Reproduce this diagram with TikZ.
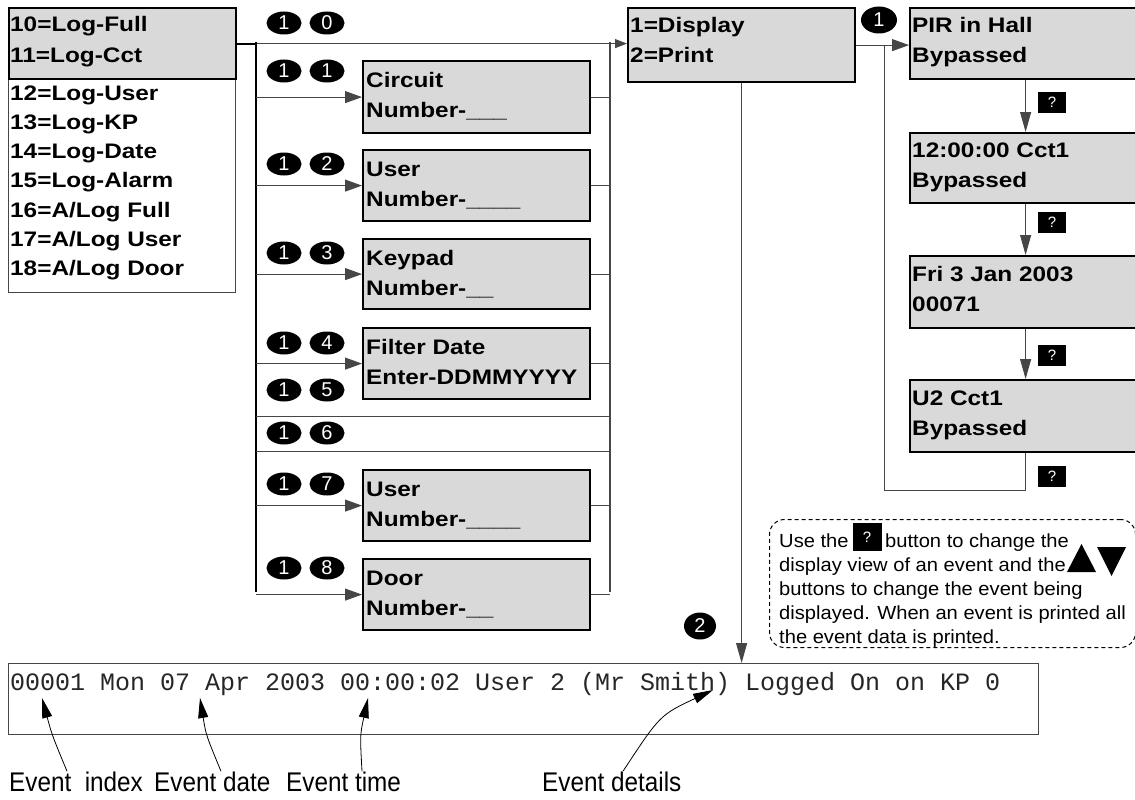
\documentclass[tikz,border=0pt]{standalone}
\usepackage{fontspec}
\setmainfont{Liberation Sans}
\newfontfamily\boxfont[FakeStretch=1.16]{Liberation Sans}
\newfontfamily\monofont{Liberation Mono}
\newfontfamily\notefont[FakeStretch=1.06]{Liberation Sans}
\newfontfamily\labfont[FakeStretch=0.9]{Liberation Sans}
\usetikzlibrary{arrows.meta,shapes.geometric}
\definecolor{boxgray}{RGB}{217,217,217}
\definecolor{linegray}{RGB}{70,70,70}
\tikzset{
  lcd/.style={draw=black, line width=2.2pt, fill=boxgray, inner sep=0pt, anchor=north west},
  plainbox/.style={draw=linegray, line width=1pt, fill=white, inner sep=0pt, anchor=north west},
  lcdtext/.style={anchor=base west, inner sep=0pt, align=left, font=\boxfont\bfseries\fontsize{21}{30}\selectfont},
  conn/.style={draw=linegray, line width=1pt},
  arr/.style={conn, -{Triangle[length=17pt,width=12pt]}},
  smallarr/.style={conn, -{Triangle[length=12pt,width=9pt]}},
  downarr/.style={conn, -{Triangle[length=20pt,width=11pt]}},
  carr/.style={draw=black, line width=0.8pt, -{Triangle[length=20pt,width=10pt]}},
  badge/.style={ellipse, fill=black, minimum width=35pt, minimum height=23pt, inner sep=0pt, text=white, font=\fontsize{20}{20}\selectfont},
  qbox/.style={fill=black, minimum width=28pt, minimum height=21pt, inner sep=0pt, text=white, font=\fontsize{15}{15}\selectfont},
  notetext/.style={anchor=base west, inner sep=0pt, font=\notefont\fontsize{19}{19}\selectfont},
  labtext/.style={anchor=base west, inner sep=0pt, font=\labfont\fontsize{27}{27}\selectfont},
}
\begin{document}
\begin{tikzpicture}[x=1pt,y=-1pt]
\useasboundingbox (0,0) rectangle (1135,800);
\fill[white] (0,0) rectangle (1135,800);

% left menu (text anchors are at the baseline of the last line)
\node[plainbox, minimum width=227pt, minimum height=214pt] (list) at (8,78) {};
\node[lcd, minimum width=227pt, minimum height=71pt] (g10) at (8,7) {};
\node[lcdtext, font=\boxfont\bfseries\fontsize{21}{31}\selectfont] (g10t) at (10,63) {10=Log-Full\\11=Log-Cct};
\node[lcdtext, font=\boxfont\bfseries\fontsize{21}{29.3}\selectfont] (listt) at (10,275.8)
  {12=Log-User\\13=Log-KP\\14=Log-Date\\15=Log-Alarm\\16=A/Log Full\\17=A/Log User\\18=A/Log Door};

% middle boxes
\node[lcd, minimum width=227pt, minimum height=72pt] (circ) at (362,60) {};
\node[lcdtext] (circt) at (366,117) {Circuit\\Number-\_\_\_};
\node[lcd, minimum width=227pt, minimum height=71pt] (user1) at (362,149) {};
\node[lcdtext] (user1t) at (366,206) {User\\Number-\_\_\_\_};
\node[lcd, minimum width=227pt, minimum height=70pt] (keyp) at (362,238) {};
\node[lcdtext] (keypt) at (366,295) {Keypad\\Number-\_\_};
\node[lcd, minimum width=227pt, minimum height=71pt] (filt) at (362,327) {};
\node[lcdtext] (filtt) at (366,384) {Filter Date\\Enter-DDMMYYYY};
\node[lcd, minimum width=227pt, minimum height=71pt] (user2) at (362,469) {};
\node[lcdtext] (user2t) at (366,526) {User\\Number-\_\_\_\_};
\node[lcd, minimum width=227pt, minimum height=71pt] (door) at (362,558) {};
\node[lcdtext] (doort) at (366,615) {Door\\Number-\_\_};

% display box
\node[lcd, minimum width=227pt, minimum height=74pt] (disp) at (627,7) {};
\node[lcdtext] (dispt) at (630,63) {1=Display\\2=Print};

% right column
\node[lcd, minimum width=231pt, minimum height=71pt] (pir) at (909,7) {};
\node[lcdtext] (pirt) at (912,63) {PIR in Hall\\Bypassed};
\node[lcd, minimum width=231pt, minimum height=70pt] (ev2) at (909,132) {};
\node[lcdtext] (ev2t) at (912,187) {12:00:00 Cct1\\Bypassed};
\node[lcd, minimum width=231pt, minimum height=72pt] (ev3) at (909,255) {};
\node[lcdtext] (ev3t) at (912,311) {Fri 3 Jan 2003\\00071};
\node[lcd, minimum width=231pt, minimum height=72pt] (ev4) at (909,379) {};
\node[lcdtext] (ev4t) at (912,435) {U2 Cct1\\Bypassed};

% buses
\coordinate (busLtop) at (256,42);
\coordinate (busLbot) at (256,592);
\coordinate (busRtop) at (610,42);
\coordinate (busRbot) at (610,592);
\draw[draw=black, line width=2pt] (g10.east) -- (g10.east -| busLtop);
\draw[smallarr] (g10.east -| busLtop) -- (g10.east -| disp.west);
\draw[draw=black, line width=1.6pt] (busLtop) -- (busLbot);
\draw[conn, line width=1.3pt] (busRtop) -- (busRbot);
\foreach \b in {circ,user1,keyp,filt,user2,door}{
  \draw[arr] (\b.west -| busLtop) -- (\b.west);
  \draw[conn] (\b.east) -- (\b.east -| busRtop);
}
\coordinate (r15L) at (256,416); \coordinate (r15R) at (610,416);
\coordinate (r16L) at (256,451); \coordinate (r16R) at (610,451);
\draw[conn] (r15L) -- (r15R);
\draw[conn] (r16L) -- (r16R);

% badges
\foreach \y/\d/\n in {23/0/10,71/1/11,164/2/12,253/3/13,343/4/14,390/5/15,433/6/16,484/7/17,568/8/18}{
  \node[badge] (ba\n) at (284,\y) {1};
  \node[badge] (bb\n) at (327,\y) {\d};
}
\node[badge, minimum width=36pt, minimum height=27pt] (bd1) at (879,20) {1};
\node[badge, minimum width=32pt, minimum height=27pt] (bd2) at (700,626) {2};

% right column flow
\draw[arr] (disp.east) -- (disp.east -| pir.west);
\draw[downarr] (pir.south) -- (ev2.north);
\draw[downarr] (ev2.south) -- (ev3.north);
\draw[downarr] (ev3.south) -- (ev4.north);
\coordinate (loopc) at (884,490);
\draw[conn] (ev4.south) |- (loopc) -- (loopc |- disp.east);
\node[qbox] (q1) at (1052,102) {?};
\node[qbox] (q2) at (1052,222) {?};
\node[qbox] (q3) at (1052,355) {?};
\node[qbox] (q4) at (1052,476) {?};

% printout
\node[plainbox, minimum width=1030pt, minimum height=71pt] (print) at (8,663) {};
\draw[downarr] (disp.south) -- (disp.south |- print.north);
\node[anchor=base west, inner sep=0pt, text=black!85, font=\monofont\fontsize{25}{25}\selectfont] (ptext) at (10,690)
  {00001 Mon 07 Apr 2003 00:00:02 User 2 (Mr Smith) Logged On on KP 0};

% note
\node[draw=black, line width=1pt, dash pattern=on 4pt off 3pt, rounded corners=15pt,
  minimum width=366pt, minimum height=128pt, inner sep=0pt, anchor=north west] (note) at (769,519) {};
\node[notetext] (n1) at (779,547) {Use the\hspace*{31pt} button to change the};
\node[qbox, minimum width=29pt, minimum height=28pt] (nq) at (867,537) {?};
\node[notetext] (n2) at (779,571) {display view of an event and the};
\node[notetext] (n3) at (779,595) {buttons to change the event being};
\node[notetext] (n4) at (779,619) {displayed. When an event is printed all};
\node[notetext] (n5) at (779,643) {the event data is printed.};
\fill[black] (1067,572) -- (1081.5,544) -- (1096,572) -- cycle;
\fill[black] (1097,547) -- (1126,547) -- (1111.5,576) -- cycle;

% labels
\node[labtext] (l1) at (9,791) {Event\ \ index};
\node[labtext] (l2) at (154,791) {Event date};
\node[labtext] (l3) at (286,791) {Event time};
\node[labtext] (l4) at (542,791) {Event details};
\coordinate (h1) at (42,698);
\coordinate (h2) at (200,698);
\coordinate (h3) at (368,698);
\coordinate (h4) at (713,690);
\draw[carr] (l1.north -| 67,0) .. controls (52,735) .. (h1);
\draw[carr] (l2.north -| 221,0) .. controls (206,735) .. (h2);
\draw[carr] (l3.north -| 362,0) .. controls (360,735) .. (h3);
\draw[carr] (l4.north -| 623,0) .. controls (660,715) .. (h4);
\end{tikzpicture}
\end{document}
